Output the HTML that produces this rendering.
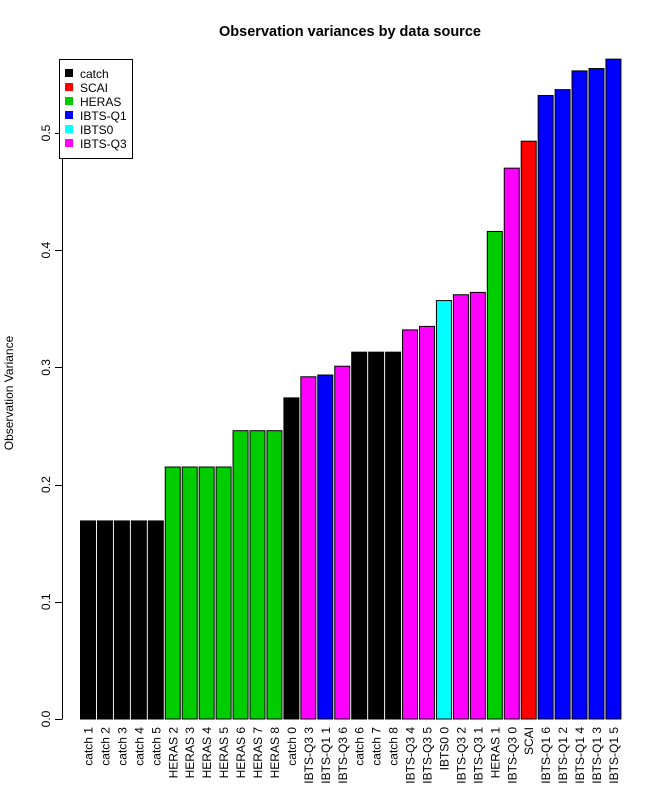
<!DOCTYPE html>
<html><head><meta charset="utf-8"><style>
body{margin:0;background:#fff;}
svg text{font-family:"Liberation Sans",Arial,sans-serif;}
</style></head><body>
<svg id="chart" width="672" height="800">
<text x="350" y="36" text-anchor="middle" font-size="14.5" font-weight="bold">Observation variances by data source</text>
<text transform="translate(13,393) rotate(-90)" text-anchor="middle" font-size="12">Observation Variance</text>
<g id="bars"></g><g id="yaxis"></g><g id="xlabels"></g>
<g>
<rect x="59.5" y="59.5" width="73" height="99" fill="#fff" stroke="#000"/>
<g id="legend"></g>
</g>
</svg>
<script>
const categories=["catch 1","catch 2","catch 3","catch 4","catch 5","HERAS 2","HERAS 3","HERAS 4","HERAS 5","HERAS 6","HERAS 7","HERAS 8","catch 0","IBTS-Q3 3","IBTS-Q1 1","IBTS-Q3 6","catch 6","catch 7","catch 8","IBTS-Q3 4","IBTS-Q3 5","IBTS0 0","IBTS-Q3 2","IBTS-Q3 1","HERAS 1","IBTS-Q3 0","SCAI","IBTS-Q1 6","IBTS-Q1 2","IBTS-Q1 4","IBTS-Q1 3","IBTS-Q1 5"];
const values=[0.169,0.169,0.169,0.169,0.169,0.215,0.215,0.215,0.215,0.246,0.246,0.246,0.274,0.292,0.2935,0.301,0.313,0.313,0.313,0.332,0.335,0.357,0.362,0.364,0.416,0.470,0.493,0.532,0.537,0.553,0.555,0.563];
const sources=["catch","catch","catch","catch","catch","HERAS","HERAS","HERAS","HERAS","HERAS","HERAS","HERAS","catch","IBTS-Q3","IBTS-Q1","IBTS-Q3","catch","catch","catch","IBTS-Q3","IBTS-Q3","IBTS0","IBTS-Q3","IBTS-Q3","HERAS","IBTS-Q3","SCAI","IBTS-Q1","IBTS-Q1","IBTS-Q1","IBTS-Q1","IBTS-Q1"];
const legendLabels=["catch","SCAI","HERAS","IBTS-Q1","IBTS0","IBTS-Q3"];
const legendColors=["#000000","#ff0000","#00cd00","#0000ff","#00ffff","#ff00ff"];
const yTicks=[0,0.1,0.2,0.3,0.4,0.5];
const NS="http://www.w3.org/2000/svg";
const y=v=>719-v*1172;
const x=i=>80+i*16.95;
const bw=15;
const bars=document.getElementById('bars');
categories.forEach((c,i)=>{
 const r=document.createElementNS(NS,'rect');
 
 
 r.setAttribute('x',x(i)+0.5);r.setAttribute('y',y(values[i]));
 r.setAttribute('width',bw);r.setAttribute('height',y(0)-y(values[i]));
 r.setAttribute('fill',legendColors[legendLabels.indexOf(sources[i])]);
 r.setAttribute('stroke','#000');
 bars.appendChild(r);
 const t=document.createElementNS(NS,'text');
 
 
 t.setAttribute('transform',`translate(${x(i)+bw/2+5},727) rotate(-90)`);
 t.setAttribute('text-anchor','end');t.setAttribute('font-size','12');
 t.textContent=c;
 document.getElementById('xlabels').appendChild(t);
});
const ya=document.getElementById('yaxis');
const ax=document.createElementNS(NS,'line');


ax.setAttribute('x1',62.5);ax.setAttribute('x2',62.5);ax.setAttribute('y1',y(0));ax.setAttribute('y2',y(0.5));ax.setAttribute('stroke','#000');
ya.appendChild(ax);
yTicks.forEach(v=>{
 const l=document.createElementNS(NS,'line');
 
 
 l.setAttribute('x1',55);l.setAttribute('x2',62.5);l.setAttribute('y1',Math.round(y(v))+0.5);l.setAttribute('y2',Math.round(y(v))+0.5);l.setAttribute('stroke','#000');
 ya.appendChild(l);
 const t=document.createElementNS(NS,'text');
 
 
 t.setAttribute('transform',`translate(50,${y(v)}) rotate(-90)`);
 t.setAttribute('text-anchor','middle');t.setAttribute('font-size','12');
 t.textContent=v.toFixed(1);
 ya.appendChild(t);
});
const lg=document.getElementById('legend');
legendLabels.forEach((s,i)=>{
 const r=document.createElementNS(NS,'rect');
 
 
 r.setAttribute('x',65);r.setAttribute('y',69+i*14);r.setAttribute('width',8);r.setAttribute('height',8);r.setAttribute('fill',legendColors[i]);
 lg.appendChild(r);
 const t=document.createElementNS(NS,'text');
 
 
 t.setAttribute('x',80);t.setAttribute('y',78+i*14);t.setAttribute('font-size','12');
 t.textContent=s;
 lg.appendChild(t);
});
</script>
</body></html>
